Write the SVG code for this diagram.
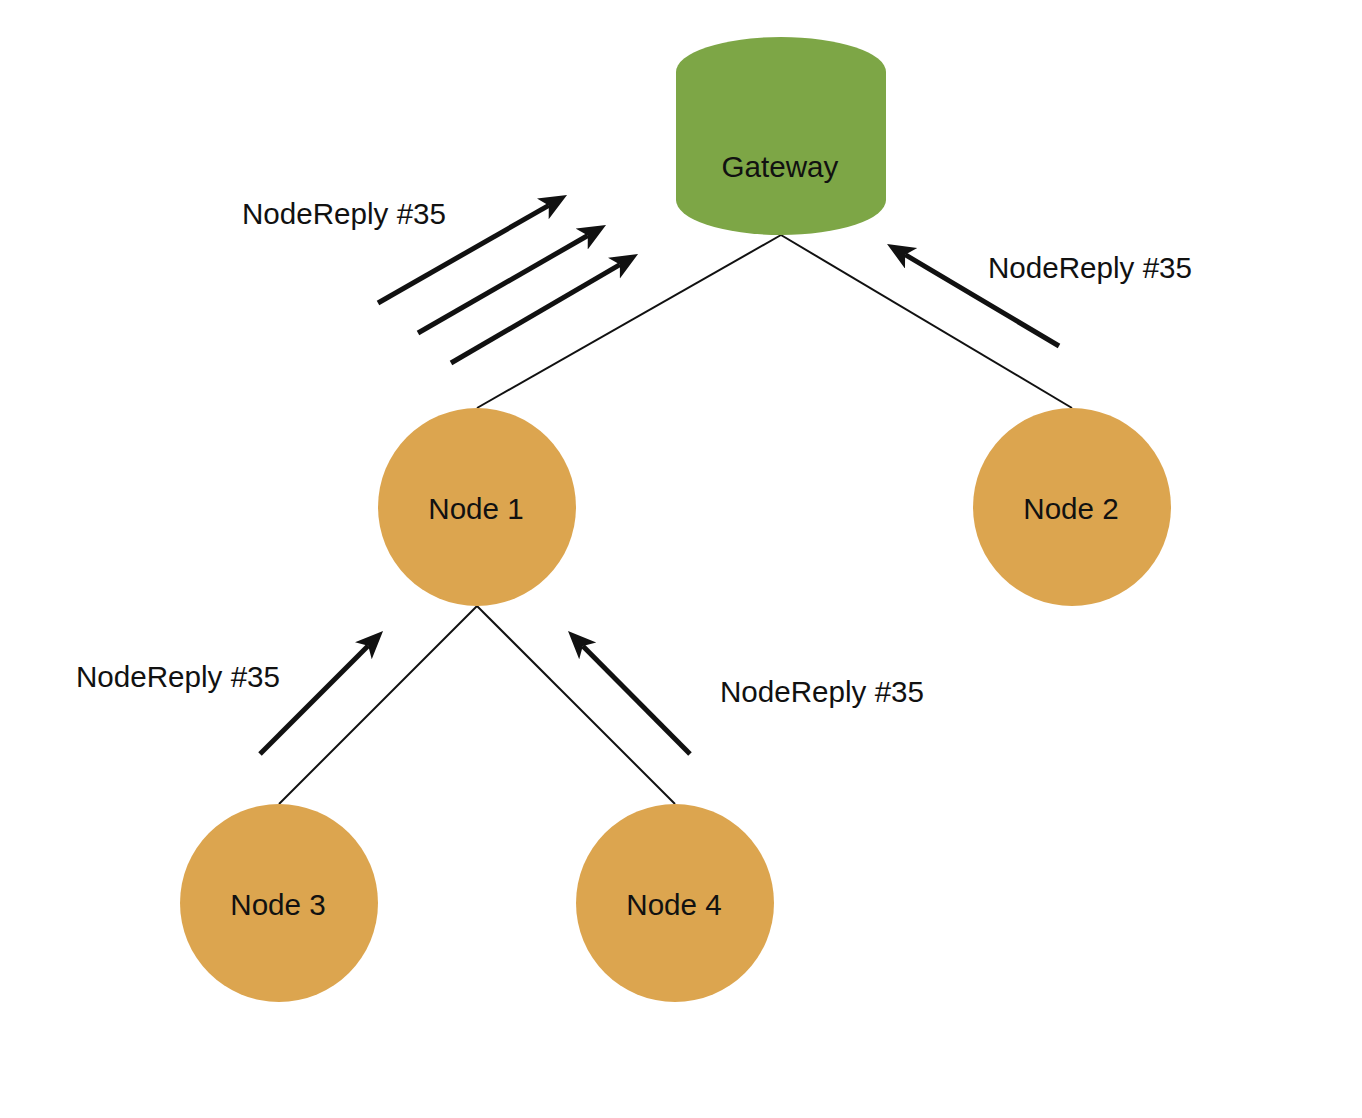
<svg xmlns="http://www.w3.org/2000/svg" width="1362" height="1118" viewBox="0 0 1362 1118">
<style>
.lbl{font-family:"Liberation Sans",Arial,sans-serif;font-size:29.6px;fill:#111;}
.mid{text-anchor:middle;dominant-baseline:central;}
.node{fill:#dca54f;}
.edge{stroke:#111;stroke-width:2;fill:none;}
.msg{stroke:#111;stroke-width:5;fill:none;marker-end:url(#ah);}
</style>
<defs>
<marker id="ah" markerUnits="userSpaceOnUse" markerWidth="30" markerHeight="26" refX="7" refY="12" orient="auto" viewBox="0 0 30 26">
<path d="M0,0 L28,12 L0,24 L7,12 Z" fill="#111"/>
</marker>
</defs>
<rect width="1362" height="1118" fill="#fff"/>
<g id="connectors">
<line class="edge" x1="781" y1="235" x2="477" y2="408"/>
<line class="edge" x1="781" y1="235" x2="1072" y2="408"/>
<line class="edge" x1="477" y1="606" x2="279" y2="804"/>
<line class="edge" x1="477" y1="606" x2="675" y2="804"/>
</g>
<g id="messages">
<line class="msg" x1="378" y1="303" x2="548.8" y2="205.4"/>
<line class="msg" x1="418" y1="333" x2="587.8" y2="235.5"/>
<line class="msg" x1="451" y1="363" x2="619.9" y2="264.6"/>
<line class="msg" x1="1059" y1="346" x2="905.1" y2="254.7"/>
<line class="msg" x1="260" y1="754" x2="368.2" y2="645.8"/>
<line class="msg" x1="690" y1="754" x2="582.8" y2="645.9"/>
<text class="lbl" x="242" y="224">NodeReply #35</text>
<text class="lbl" x="988" y="278">NodeReply #35</text>
<text class="lbl" x="76" y="687">NodeReply #35</text>
<text class="lbl" x="720" y="702">NodeReply #35</text>
</g>
<g id="gateway">
<path d="M676,72 A105,35 0 0 1 886,72 L886,200 A105,35 0 0 1 676,200 Z" fill="#7da646"/>
<text class="lbl mid" x="780" y="166">Gateway</text>
</g>
<g id="node1">
<circle class="node" cx="477" cy="507" r="99"/>
<text class="lbl mid" x="476" y="508">Node 1</text>
</g>
<g id="node2">
<circle class="node" cx="1072" cy="507" r="99"/>
<text class="lbl mid" x="1071" y="508">Node 2</text>
</g>
<g id="node3">
<circle class="node" cx="279" cy="903" r="99"/>
<text class="lbl mid" x="278" y="904">Node 3</text>
</g>
<g id="node4">
<circle class="node" cx="675" cy="903" r="99"/>
<text class="lbl mid" x="674" y="904">Node 4</text>
</g>
</svg>
